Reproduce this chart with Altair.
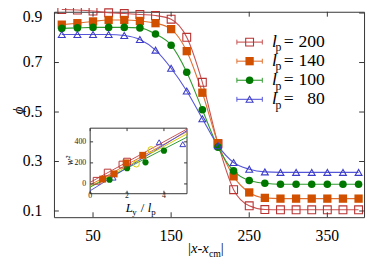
import altair as alt
import pandas as pd

FONT = "Liberation Serif"

# ---------------- main panel data ----------------
X_POS = [10, 30, 50, 70, 90, 110, 130, 150, 170, 190, 210, 230, 250, 270, 290, 310, 330, 350, 370, 390]
PHI_LP200 = [0.914, 0.912, 0.908, 0.901, 0.898, 0.894, 0.890, 0.875, 0.802, 0.620, 0.372, 0.186,
             0.121, 0.106, 0.105, 0.105, 0.105, 0.105, 0.105, 0.105]
PHI_LP140 = [0.853, 0.859, 0.866, 0.872, 0.872, 0.868, 0.859, 0.835, 0.746, 0.578, 0.374, 0.240,
             0.175, 0.153, 0.150, 0.150, 0.150, 0.150, 0.150, 0.150]
PHI_LP100 = [0.838, 0.840, 0.842, 0.842, 0.842, 0.840, 0.815, 0.770, 0.661, 0.509, 0.358, 0.262,
             0.223, 0.212, 0.208, 0.208, 0.208, 0.208, 0.208, 0.208]
PHI_LP80 = [0.813, 0.813, 0.813, 0.813, 0.809, 0.793, 0.750, 0.677, 0.585, 0.473, 0.364, 0.296,
            0.269, 0.258, 0.256, 0.256, 0.256, 0.256, 0.256, 0.256]

LP_LABELS = ["200", "140", "100", "80"]
X_TICKS = [50, 150, 250, 350]
Y_TICKS = [0.1, 0.3, 0.5, 0.7]
Y_TICK_TOP = [0.9]

# ---------------- inset data ----------------
INS_LY_200 = [0.35, 0.95, 1.75, 2.0]
INS_W2_200 = [30, 108, 184, 212]
INS_LY_140 = [0.68, 1.3, 1.95, 2.85]
INS_W2_140 = [46, 95, 200, 272]
INS_LY_100 = [1.05, 2.0, 3.0, 4.0]
INS_W2_100 = [40, 150, 205, 316]
INS_LY_80 = [1.25, 3.74, 5.02]
INS_W2_80 = [60, 396, 378]
INS_LY_Y = [2.5, 3.3]
INS_W2_Y = [190, 325]
FIT_LY = [0.0, 5.25]
FIT_200 = [15, 522]
FIT_140 = [-10, 498]
FIT_Y = [-25, 476]
FIT_100 = [-30, 445]
FIT_80 = [-65, 507]
INS_X_TICKS = [0, 2, 4]
INS_Y_TICKS = [0, 200, 400]

RED, ORANGE, GREEN, BLUE, YELLOW = "#b83232", "#d05000", "#007800", "#3c3cc8", "#d8cc00"
LRED, LORANGE, LGREEN, LBLUE = "#c85050", "#e07030", "#2f9a2f", "#5555d8"
FRAME = "#333333"

W, H = 317, 210
OX, OY = 55, 9  # page position of plot origin

xs = alt.Scale(domain=[0, 397], nice=False, zero=False)
ys = alt.Scale(domain=[0.075, 0.9051], nice=False, zero=False)

one = pd.DataFrame({"a": [0]})


def txt(s, xp, yp, size=16, style="normal", align="left", baseline="alphabetic", angle=0):
    return alt.Chart(pd.DataFrame({"t": [s]})).mark_text(
        font=FONT, fontSize=size, fontStyle=style, align=align, baseline=baseline,
        angle=angle, color="black").encode(
        x=alt.value(xp - OX), y=alt.value(yp - OY), text="t:N")


series = [
    (PHI_LP200, RED, LRED, dict(shape="square", filled=False, size=64)),
    (PHI_LP140, ORANGE, LORANGE, dict(shape="square", filled=True, size=72)),
    (PHI_LP100, GREEN, LGREEN, dict(shape="circle", filled=True, size=60)),
    (PHI_LP80, BLUE, LBLUE, dict(shape="triangle-up", filled=False, size=50)),
]

main_layers = []
for vals, col, lcol, mk in series:
    df = pd.DataFrame({"x": X_POS, "phi": vals})
    main_layers.append(
        alt.Chart(df).mark_line(color=lcol, strokeWidth=1.1, interpolate="monotone").encode(
            x=alt.X("x:Q", scale=xs, axis=None), y=alt.Y("phi:Q", scale=ys, axis=None)))
for vals, col, lcol, mk in series:
    df = pd.DataFrame({"x": X_POS, "phi": vals})
    main_layers.append(
        alt.Chart(df).mark_point(color=col, opacity=1, strokeWidth=1.1, **mk).encode(
            x=alt.X("x:Q", scale=xs, axis=None), y=alt.Y("phi:Q", scale=ys, axis=None)))

# inward mirrored ticks + tick labels
xt = pd.DataFrame({"x": X_TICKS})
yt = pd.DataFrame({"phi": Y_TICKS + Y_TICK_TOP})
ytl = pd.DataFrame({"phi": Y_TICKS})
for y1, y2 in [(H, H - 5), (0, 5)]:
    main_layers.append(alt.Chart(xt).mark_rule(color=FRAME, strokeWidth=1).encode(
        x=alt.X("x:Q", scale=xs, axis=None), y=alt.value(y1), y2=alt.value(y2)))
for x1, x2 in [(0, 5), (W, W - 5)]:
    main_layers.append(alt.Chart(yt).mark_rule(color=FRAME, strokeWidth=1).encode(
        y=alt.Y("phi:Q", scale=ys, axis=None), x=alt.value(x1), x2=alt.value(x2)))
main_layers.append(alt.Chart(xt).mark_text(font=FONT, fontSize=16, color="black", baseline="middle",
                                           align="center").encode(
    x=alt.X("x:Q", scale=xs, axis=None), y=alt.value(238 - OY), text=alt.Text("x:Q", format="d")))
main_layers.append(alt.Chart(ytl).mark_text(font=FONT, fontSize=16, color="black", baseline="middle",
                                            align="right").encode(
    y=alt.Y("phi:Q", scale=ys, axis=None), x=alt.value(43 - OX), text=alt.Text("phi:Q", format=".1f")))
# top label (0.9) nudged down so that it is not cut by the page margin
main_layers.append(alt.Chart(pd.DataFrame({"phi": Y_TICK_TOP})).mark_text(
    font=FONT, fontSize=16, color="black", baseline="middle", align="right", dy=4).encode(
    y=alt.Y("phi:Q", scale=ys, axis=None), x=alt.value(43 - OX), text=alt.Text("phi:Q", format=".1f")))

# legend (manual)
rows = [40, 59.5, 79, 98.5]
for (vals, col, lcol, mk), lab, r in zip(series, LP_LABELS, rows):
    main_layers.append(alt.Chart(one).mark_rule(color=lcol, strokeWidth=1.1).encode(
        x=alt.value(242 - OX), x2=alt.value(268 - OX), y=alt.value(r - OY)))
    for cx in (242, 268):
        main_layers.append(alt.Chart(one).mark_rule(color=lcol, strokeWidth=1).encode(
            x=alt.value(cx - OX), y=alt.value(r - OY - 2.5), y2=alt.value(r - OY + 2.5)))
    main_layers.append(alt.Chart(one).mark_point(color=col, opacity=1, strokeWidth=1.1, **mk).encode(
        x=alt.value(255 - OX), y=alt.value(r - OY)))
    main_layers.append(txt("l", 278, r + 5, size=18, style="italic"))
    main_layers.append(txt("p", 281.5, r + 9.5, size=12))
    main_layers.append(txt("=", 290, r + 5, size=18))
    main_layers.append(txt(lab, 332, r + 5, size=18, align="right"))

# axis titles
main_layers += [
    txt("|", 192, 256, size=15),
    txt("x", 195, 256, size=15, style="italic"),
    txt("-", 201.7, 256, size=15),
    txt("x", 206.7, 256, size=15, style="italic"),
    txt("cm", 213.4, 260, size=10),
    txt("|", 225.6, 256, size=15),
    txt("ϕ", 18, 110, size=15, style="italic", align="center", baseline="middle", angle=270),
]

main = alt.layer(*main_layers)

# ---------------- inset ----------------
IX0, IX1, IY0, IY1 = 92, 191, 128, 195  # page box
ixs = alt.Scale(domain=[0, 5.25], range=[IX0 - OX, IX1 - OX], nice=False, zero=False)
iys = alt.Scale(domain=[-93, 530], range=[IY1 - OY, IY0 - OY], nice=False, zero=False)

ins_layers = [
    alt.Chart(one).mark_rect(fill="white", stroke=FRAME, strokeWidth=1).encode(
        x=alt.value(IX0 - OX), x2=alt.value(IX1 - OX), y=alt.value(IY0 - OY), y2=alt.value(IY1 - OY))
]
fits = [(FIT_200, LRED), (FIT_140, LORANGE), (FIT_Y, YELLOW), (FIT_100, LGREEN), (FIT_80, LBLUE)]
for fv, col in fits:
    df = pd.DataFrame({"Ly": FIT_LY, "w2": fv})
    ins_layers.append(alt.Chart(df).mark_line(color=col, strokeWidth=1).encode(
        x=alt.X("Ly:Q", scale=ixs, axis=None), y=alt.Y("w2:Q", scale=iys, axis=None)))

ins_pts = [
    (INS_LY_Y, INS_W2_Y, YELLOW, dict(shape="circle", filled=False, size=40)),
    (INS_LY_80, INS_W2_80, BLUE, dict(shape="triangle-up", filled=False, size=34)),
    (INS_LY_100, INS_W2_100, GREEN, dict(shape="circle", filled=True, size=40)),
    (INS_LY_200, INS_W2_200, RED, dict(shape="square", filled=False, size=48)),
    (INS_LY_140, INS_W2_140, ORANGE, dict(shape="square", filled=True, size=50)),
]
for lx, wy, col, mk in ins_pts:
    df = pd.DataFrame({"Ly": lx, "w2": wy})
    ins_layers.append(alt.Chart(df).mark_point(color=col, opacity=1, strokeWidth=1, **mk).encode(
        x=alt.X("Ly:Q", scale=ixs, axis=None), y=alt.Y("w2:Q", scale=iys, axis=None)))

ixt = pd.DataFrame({"Ly": INS_X_TICKS})
iyt = pd.DataFrame({"w2": INS_Y_TICKS})
for y1, y2 in [(IY1 - OY, IY1 - OY - 3), (IY0 - OY, IY0 - OY + 3)]:
    ins_layers.append(alt.Chart(ixt).mark_rule(color=FRAME, strokeWidth=1).encode(
        x=alt.X("Ly:Q", scale=ixs, axis=None), y=alt.value(y1), y2=alt.value(y2)))
for x1, x2 in [(IX0 - OX, IX0 - OX + 3), (IX1 - OX, IX1 - OX - 3)]:
    ins_layers.append(alt.Chart(iyt).mark_rule(color=FRAME, strokeWidth=1).encode(
        y=alt.Y("w2:Q", scale=iys, axis=None), x=alt.value(x1), x2=alt.value(x2)))
ins_layers.append(alt.Chart(ixt).mark_text(font=FONT, fontSize=8, color="#222", baseline="middle",
                                           align="center").encode(
    x=alt.X("Ly:Q", scale=ixs, axis=None), y=alt.value(197.5 - OY), text=alt.Text("Ly:Q", format="d")))
ins_layers.append(alt.Chart(iyt).mark_text(font=FONT, fontSize=8, color="#222", baseline="middle",
                                           align="right").encode(
    y=alt.Y("w2:Q", scale=iys, axis=None), x=alt.value(88 - OX), text=alt.Text("w2:Q", format="d")))

ins_layers += [
    txt("w²", 71.5, 161, size=10, style="italic", align="center", baseline="middle", angle=270),
    txt("L", 128.5, 213.5, size=13, style="italic"),
    txt("y", 135, 216.5, size=9),
    txt("/", 145.5, 213.5, size=13, align="center"),
    txt("l", 151, 213.5, size=13, style="italic"),
    txt("p", 154.5, 216.5, size=9),
]

inset = alt.layer(*ins_layers)

chart = alt.layer(main, inset).resolve_scale(x="independent", y="independent").properties(
    width=W, height=H, autosize="none",
    padding={"left": OX - 8, "top": OY - 8, "right": 2, "bottom": 45},
).configure_view(stroke=FRAME, strokeWidth=1)

chart.save("out.html", embed_options={"renderer": "svg", "actions": False})
